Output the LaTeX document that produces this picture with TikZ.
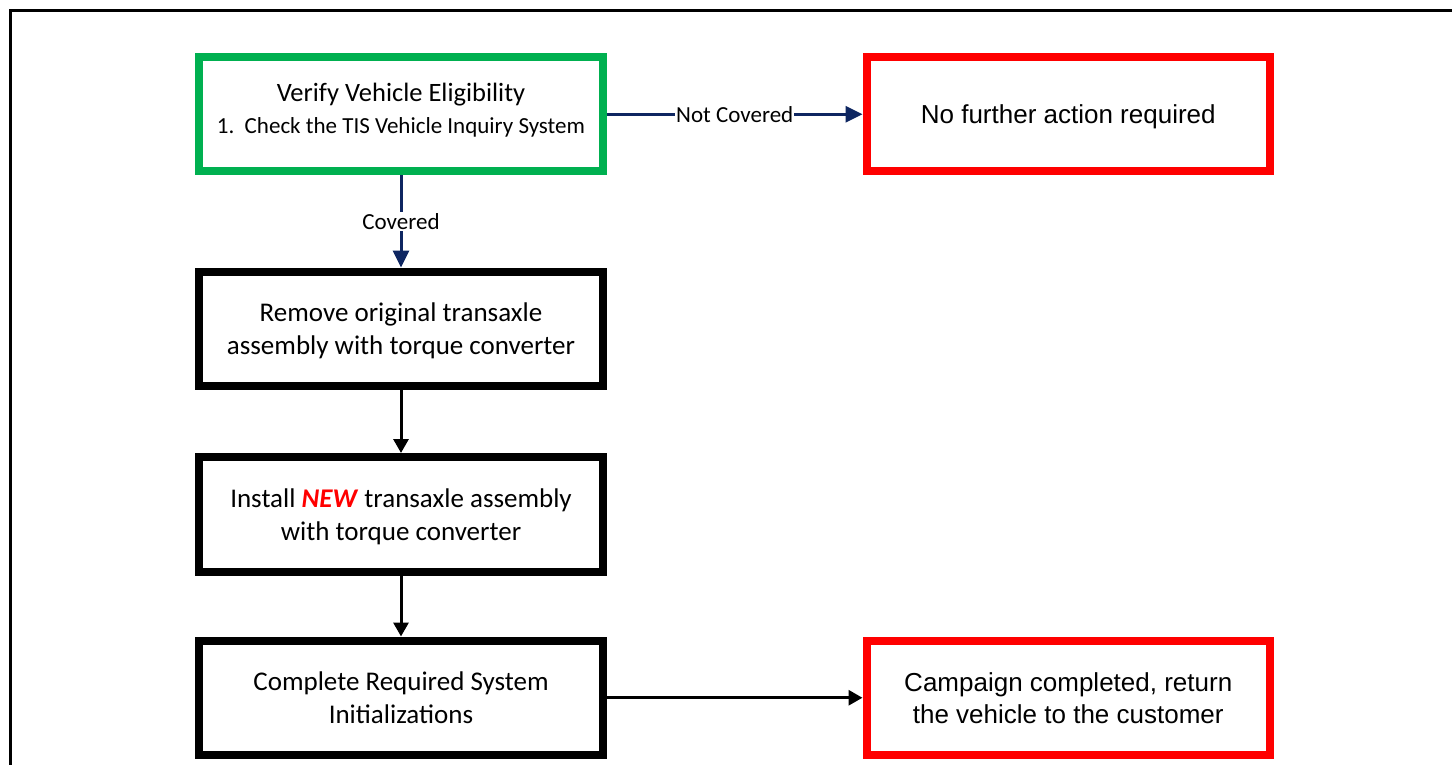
\documentclass[tikz,border=0pt]{standalone}
\usepackage{fontspec}
\setmainfont{Carlito}
\newfontfamily\arialf{Liberation Sans}
\usetikzlibrary{arrows.meta,shadows}
\definecolor{navyc}{HTML}{0E2661}
\definecolor{greenc}{HTML}{00B050}
\definecolor{redc}{HTML}{FF0000}
\definecolor{shadowc}{HTML}{BDD0EA}
\begin{document}
\begin{tikzpicture}[x=1pt,y=-1pt,
  box/.style={draw, line width=8pt, minimum width=404pt, minimum height=114.5pt,
    inner sep=0pt, align=center, fill=white, text depth=0pt,
    drop shadow={shadow xshift=2pt, shadow yshift=-2pt, fill=shadowc, opacity=0.5},
    font=\fontsize{27}{33}\selectfont},
  blackbox/.style={box, draw=black},
  greenbox/.style={box, draw=greenc},
  redbox/.style={box, draw=redc, font=\arialf\fontsize{26}{32}\selectfont},
  navyarrow/.style={draw=navyc, line width=3pt, -{Triangle[length=17pt,width=16pt]}, fill=navyc},
  blackarrow/.style={draw=black, line width=3pt, -{Triangle[length=14pt,width=15pt]}},
  edgelabel/.style={fill=white, inner sep=1pt, text=black, font=\fontsize{23}{26}\selectfont},
  frameline/.style={draw=black, line width=3pt}
]
\useasboundingbox (0,0) rectangle (1452,765);
\fill[white] (0,0) rectangle (1452,765);

% outer frame (cropped)
\coordinate (fbl) at (10,767);
\coordinate (ftl) at (10,11);
\coordinate (ftr) at (1454,11);
\draw[frameline] (fbl) -- (ftl) -- (ftr);

% boxes
\node[greenbox] (verify) at (401,114.25) {};
\node[font=\fontsize{26.5}{30}\selectfont] (vt1) at ([yshift=19.5pt]verify.center) {Verify Vehicle Eligibility};
\node[font=\fontsize{23}{26}\selectfont] (vt2) at ([yshift=-13pt]verify.center) {1.\hspace{0.45em}Check the TIS Vehicle Inquiry System};

\node[redbox, minimum width=403.5pt] (nofurther) at (1068.25,114.25) {No further action required};

\node[blackbox] (remove) at (401,328.75) {Remove original transaxle\\assembly with torque converter};
\node[blackbox] (install) at (401,514.25) {Install \textcolor{redc}{\textbf{\textit{NEW}}} transaxle assembly\\with torque converter};
\node[blackbox] (complete) at (401,697.75) {Complete Required System\\Initializations};
\node[redbox, minimum width=403.5pt] (campaign) at (1068.25,697.75) {Campaign completed, return\\the vehicle to the customer};

% connectors
\draw[navyarrow] (verify.east) -- node[edgelabel] {Not Covered} (nofurther.west);
\draw[navyarrow] (verify.south) -- node[edgelabel] {Covered} (remove.north);
\draw[blackarrow] (remove.south) -- (install.north);
\draw[blackarrow] (install.south) -- (complete.north);
\draw[blackarrow] (complete.east) -- (campaign.west);
\end{tikzpicture}
\end{document}
